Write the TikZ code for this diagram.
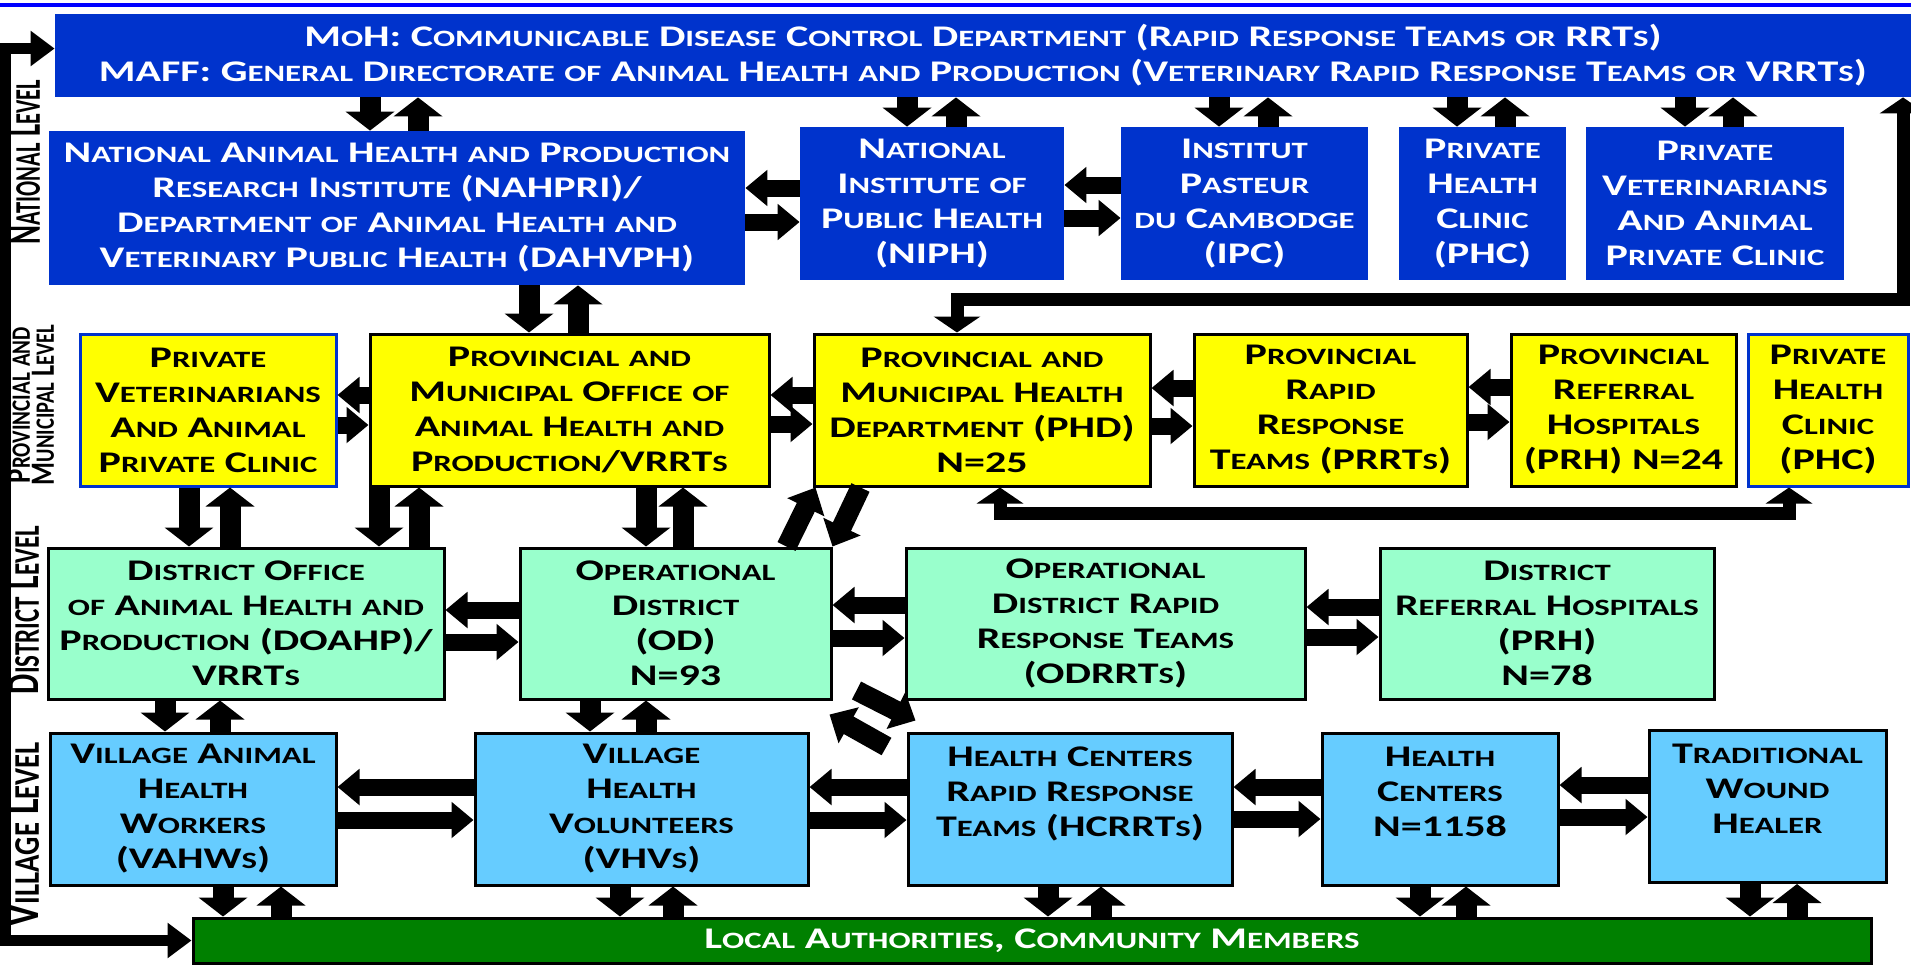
\documentclass[tikz,border=0pt]{standalone}
\usepackage{fontspec}
\setmainfont{Carlito}[FakeStretch=1.4]
\newfontfamily\lblfont{Carlito}
\usepackage{graphicx}
\usetikzlibrary{arrows.meta}

\definecolor{natblue}{HTML}{0033CC}
\definecolor{provyellow}{HTML}{FFFF00}
\definecolor{distgreen}{HTML}{99FFCC}
\definecolor{villblue}{HTML}{66CCFF}
\definecolor{localgreen}{HTML}{008000}
\definecolor{rulebl}{HTML}{0000FF}

% small caps made by hand: lower case letters become smaller capitals
\ExplSyntaxOn
\seq_new:N \l_fsc_lines_seq
\tl_new:N \l_fsc_out_tl
\cs_new_protected:Npn \fscsmall
  { \fontsize { \fp_eval:n { 0.78 * \use:c { f@size } } } { \use:c { f@baselineskip } } \selectfont }
\NewDocumentCommand \fsc { m }
  {
    \seq_set_split:Nnn \l_fsc_lines_seq { \\ } { #1 }
    \tl_clear:N \l_fsc_out_tl
    \seq_map_inline:Nn \l_fsc_lines_seq
      {
        \tl_if_empty:NF \l_fsc_out_tl { \tl_put_right:Nn \l_fsc_out_tl { \\ } }
        \str_map_inline:nn { ##1 }
          {
            \str_if_in:nnTF { abcdefghijklmnopqrstuvwxyz } { ####1 }
              { \tl_put_right:Nn \l_fsc_out_tl { { \fscsmall \uppercase { ####1 } } } }
              { \tl_put_right:Nn \l_fsc_out_tl { ####1 } }
          }
      }
    \tl_use:N \l_fsc_out_tl
  }
\ExplSyntaxOff

\tikzset{
  sz/.style 2 args={minimum width=#1*0.5pt, minimum height=#2*0.5pt},
  unitbox/.style={inner sep=0pt, align=center, font=\fontsize{15}{17.5}\selectfont\bfseries},
  natbox/.style={unitbox, fill=natblue, text=white},
  provbox/.style={unitbox, fill=provyellow, draw=black, line width=1.5pt},
  privbox/.style={provbox, draw=natblue},
  distbox/.style={unitbox, fill=distgreen, draw=black, line width=1.5pt},
  villbox/.style={unitbox, fill=villblue, draw=black, line width=1.5pt},
  localbar/.style={unitbox, fill=localgreen, draw=black, line width=1.5pt, text=white},
  lvl/.style={rotate=90, inner sep=0pt, align=center},
  varrow/.style={line width=10.5pt, -{Triangle[length=9.5pt, width=24pt]}},
  harrow/.style={line width=8.5pt, -{Triangle[length=11pt, width=17.5pt]}},
  darrow/.style={line width=10pt, -{Triangle[length=11pt, width=20pt]}},
  longlink/.style={line width=6.5pt, {Triangle[length=8pt, width=23pt]}-{Triangle[length=8pt, width=23pt]}},
  sidelink/.style={line width=5.5pt, {Triangle[length=12pt, width=17pt]}-{Triangle[length=12pt, width=17pt]}},
}

\begin{document}
\begin{tikzpicture}[x=0.5pt, y=-0.5pt]
\useasboundingbox (0,0) rectangle (1911,966);
\draw[rulebl, line width=2pt] (0,5) -- (1911,5);

% national level
\node[natbox, sz={1856}{83}] (MOH) at (983,55.5) {\fsc{MoH: Communicable Disease Control Department (Rapid Response Teams or RRTs)\\MAFF: General Directorate of Animal Health and Production (Veterinary Rapid Response Teams or VRRTs)}};
\node[natbox, sz={696}{154}] (NAHPRI) at (397,208) {\fsc{National Animal Health and Production\\Research Institute (NAHPRI)/\\Department of Animal Health and\\Veterinary Public Health (DAHVPH)}};
\node[natbox, sz={264}{153}] (NIPH) at (932,203.5) {\fsc{National\\Institute of\\Public Health\\(NIPH)}};
\node[natbox, sz={247}{153}] (IPC) at (1244.5,203.5) {\fsc{Institut\\Pasteur\\du Cambodge\\(IPC)}};
\node[natbox, sz={167}{153}] (PHC) at (1482.5,203.5) {\fsc{Private\\Health\\Clinic\\(PHC)}};
\node[natbox, sz={258}{153}] (PVET) at (1715,203.5) {\fsc{Private\\Veterinarians\\And Animal\\Private Clinic}};

% provincial and municipal level
\node[privbox, sz={256}{152}] (PVET2) at (208,410) {\fsc{Private\\Veterinarians\\And Animal\\Private Clinic}};
\node[provbox, sz={399}{152}] (PMOAHP) at (569.5,410) {\fsc{Provincial and\\Municipal Office of\\Animal Health and\\Production/VRRTs}};
\node[provbox, sz={336}{152}] (PHD) at (982,410) {\fsc{Provincial and\\Municipal Health\\Department (PHD)\\N=25}};
\node[provbox, sz={273}{152}] (PRRT) at (1330.5,410) {\fsc{Provincial\\Rapid\\Response\\Teams (PRRTs)}};
\node[provbox, sz={225}{152}] (PRH) at (1623.5,410) {\fsc{Provincial\\Referral\\Hospitals\\(PRH) N=24}};
\node[privbox, sz={160}{152}] (PHC2) at (1828,410) {\fsc{Private\\Health\\Clinic\\(PHC)}};

% district level
\node[distbox, sz={396}{151}] (DOAHP) at (246,623.5) {\fsc{District Office\\of Animal Health and\\Production (DOAHP)/\\VRRTs}};
\node[distbox, sz={311}{151}] (OD) at (675.5,623.5) {\fsc{Operational\\District\\(OD)\\N=93}};
\node[distbox, sz={399}{151}] (ODRRT) at (1105.5,623.5) {\fsc{Operational\\District Rapid\\Response Teams\\(ODRRTs)}};
\node[distbox, sz={334}{151}] (DRH) at (1547,623.5) {\fsc{District\\Referral Hospitals\\(PRH)\\N=78}};

% village level
\node[villbox, sz={286}{152}] (VAHW) at (193,809) {\fsc{Village Animal\\Health\\Workers\\(VAHWs)}};
\node[villbox, sz={333}{152}] (VHV) at (641.5,809) {\fsc{Village\\Health\\Volunteers\\(VHVs)}};
\node[villbox, sz={324}{152}] (HCRRT) at (1070,809) {\fsc{Health Centers\\Rapid Response\\Teams (HCRRTs)}\\\mbox{}};
\node[villbox, sz={236}{152}] (HC) at (1440,809) {\fsc{Health\\Centers\\N=1158}\\\mbox{}};
\node[villbox, sz={237}{152}] (TWH) at (1767.5,806.5) {\fsc{Traditional\\Wound\\Healer}\\\mbox{}};
\node[localbar, sz={1678}{45}] (LOCAL) at (1032,940.5) {\fsc{Local Authorities, Community Members}};

% level labels
\node[lvl] (NATL) at (25,162) {\resizebox{82pt}{15pt}{\lblfont\bfseries\fsc{National Level}}};
\node[lvl, font=\fontsize{9}{10.5}\selectfont] (PROVL) at (31,405) {\resizebox{78pt}{11pt}{\lblfont\bfseries\fsc{Provincial and}}\\\resizebox{80pt}{11pt}{\lblfont\bfseries\fsc{Municipal Level}}};
\node[lvl] (DISTL) at (24,610) {\resizebox{84pt}{15pt}{\lblfont\bfseries\fsc{District Level}}};
\node[lvl] (VILLL) at (24,834) {\resizebox{92pt}{15pt}{\lblfont\bfseries\fsc{Village Level}}};

% down and up arrows between levels
\foreach \a/\b/\xd/\xu in {MOH/NAHPRI/370/418, MOH/NIPH/907/956, MOH/IPC/1219/1268, MOH/PHC/1457/1505, MOH/PVET/1685/1733,
    NAHPRI/PMOAHP/529/578, PVET2/DOAHP/189/230, PMOAHP/DOAHP/379/419, PMOAHP/OD/646/683,
    DOAHP/VAHW/165/220, OD/VHV/590/646, VAHW/LOCAL/223/281, VHV/LOCAL/620/673,
    HCRRT/LOCAL/1048/1101, HC/LOCAL/1420/1466, TWH/LOCAL/1750/1797}
  {
    \draw[varrow] (\xd,0 |- \a.south) -- (\xd,0 |- \b.north);
    \draw[varrow] (\xu,0 |- \b.north) -- (\xu,0 |- \a.south);
  }

% left and right arrows within a level
\foreach \a/\b/\yl/\yr in {NAHPRI/NIPH/188/222, NIPH/IPC/185/218, PVET2/PMOAHP/395/425, PMOAHP/PHD/395/424,
    PHD/PRRT/388/426, PRRT/PRH/387/422, DOAHP/OD/610/642, OD/ODRRT/605/638, ODRRT/DRH/607/637,
    VAHW/VHV/787/820, VHV/HCRRT/787/820, HCRRT/HC/787/819, HC/TWH/785/817}
  {
    \draw[harrow] (\b.west |- 0,\yl) -- (\a.east |- 0,\yl);
    \draw[harrow] (\a.east |- 0,\yr) -- (\b.west |- 0,\yr);
  }

% slanted arrows
\draw[darrow] ([xshift=-23pt]OD.north east) -- ([xshift=1.5pt]PHD.south west);
\draw[darrow] ([xshift=24pt]PHD.south west) -- (OD.north east);
\draw[darrow] ([xshift=12pt,yshift=5pt]OD.south east) -- ([xshift=4.5pt,yshift=5.5pt]HCRRT.north west);
\draw[darrow] ([xshift=-10pt,yshift=-7.5pt]HCRRT.north west) -- ([xshift=-1.5pt,yshift=-7pt]OD.south east);

% long links
\draw[longlink] (957,0 |- PHD.north) |- (1903,299) -- (1903,0 |- MOH.south);
\draw[longlink] (1000,0 |- PHD.south) |- (1789,513) -- (1789,0 |- PHC2.south);
\draw[sidelink] ([yshift=3.5pt]MOH.west) -| (5,0 |- LOCAL.west) -- (LOCAL.west);
\end{tikzpicture}
\end{document}
